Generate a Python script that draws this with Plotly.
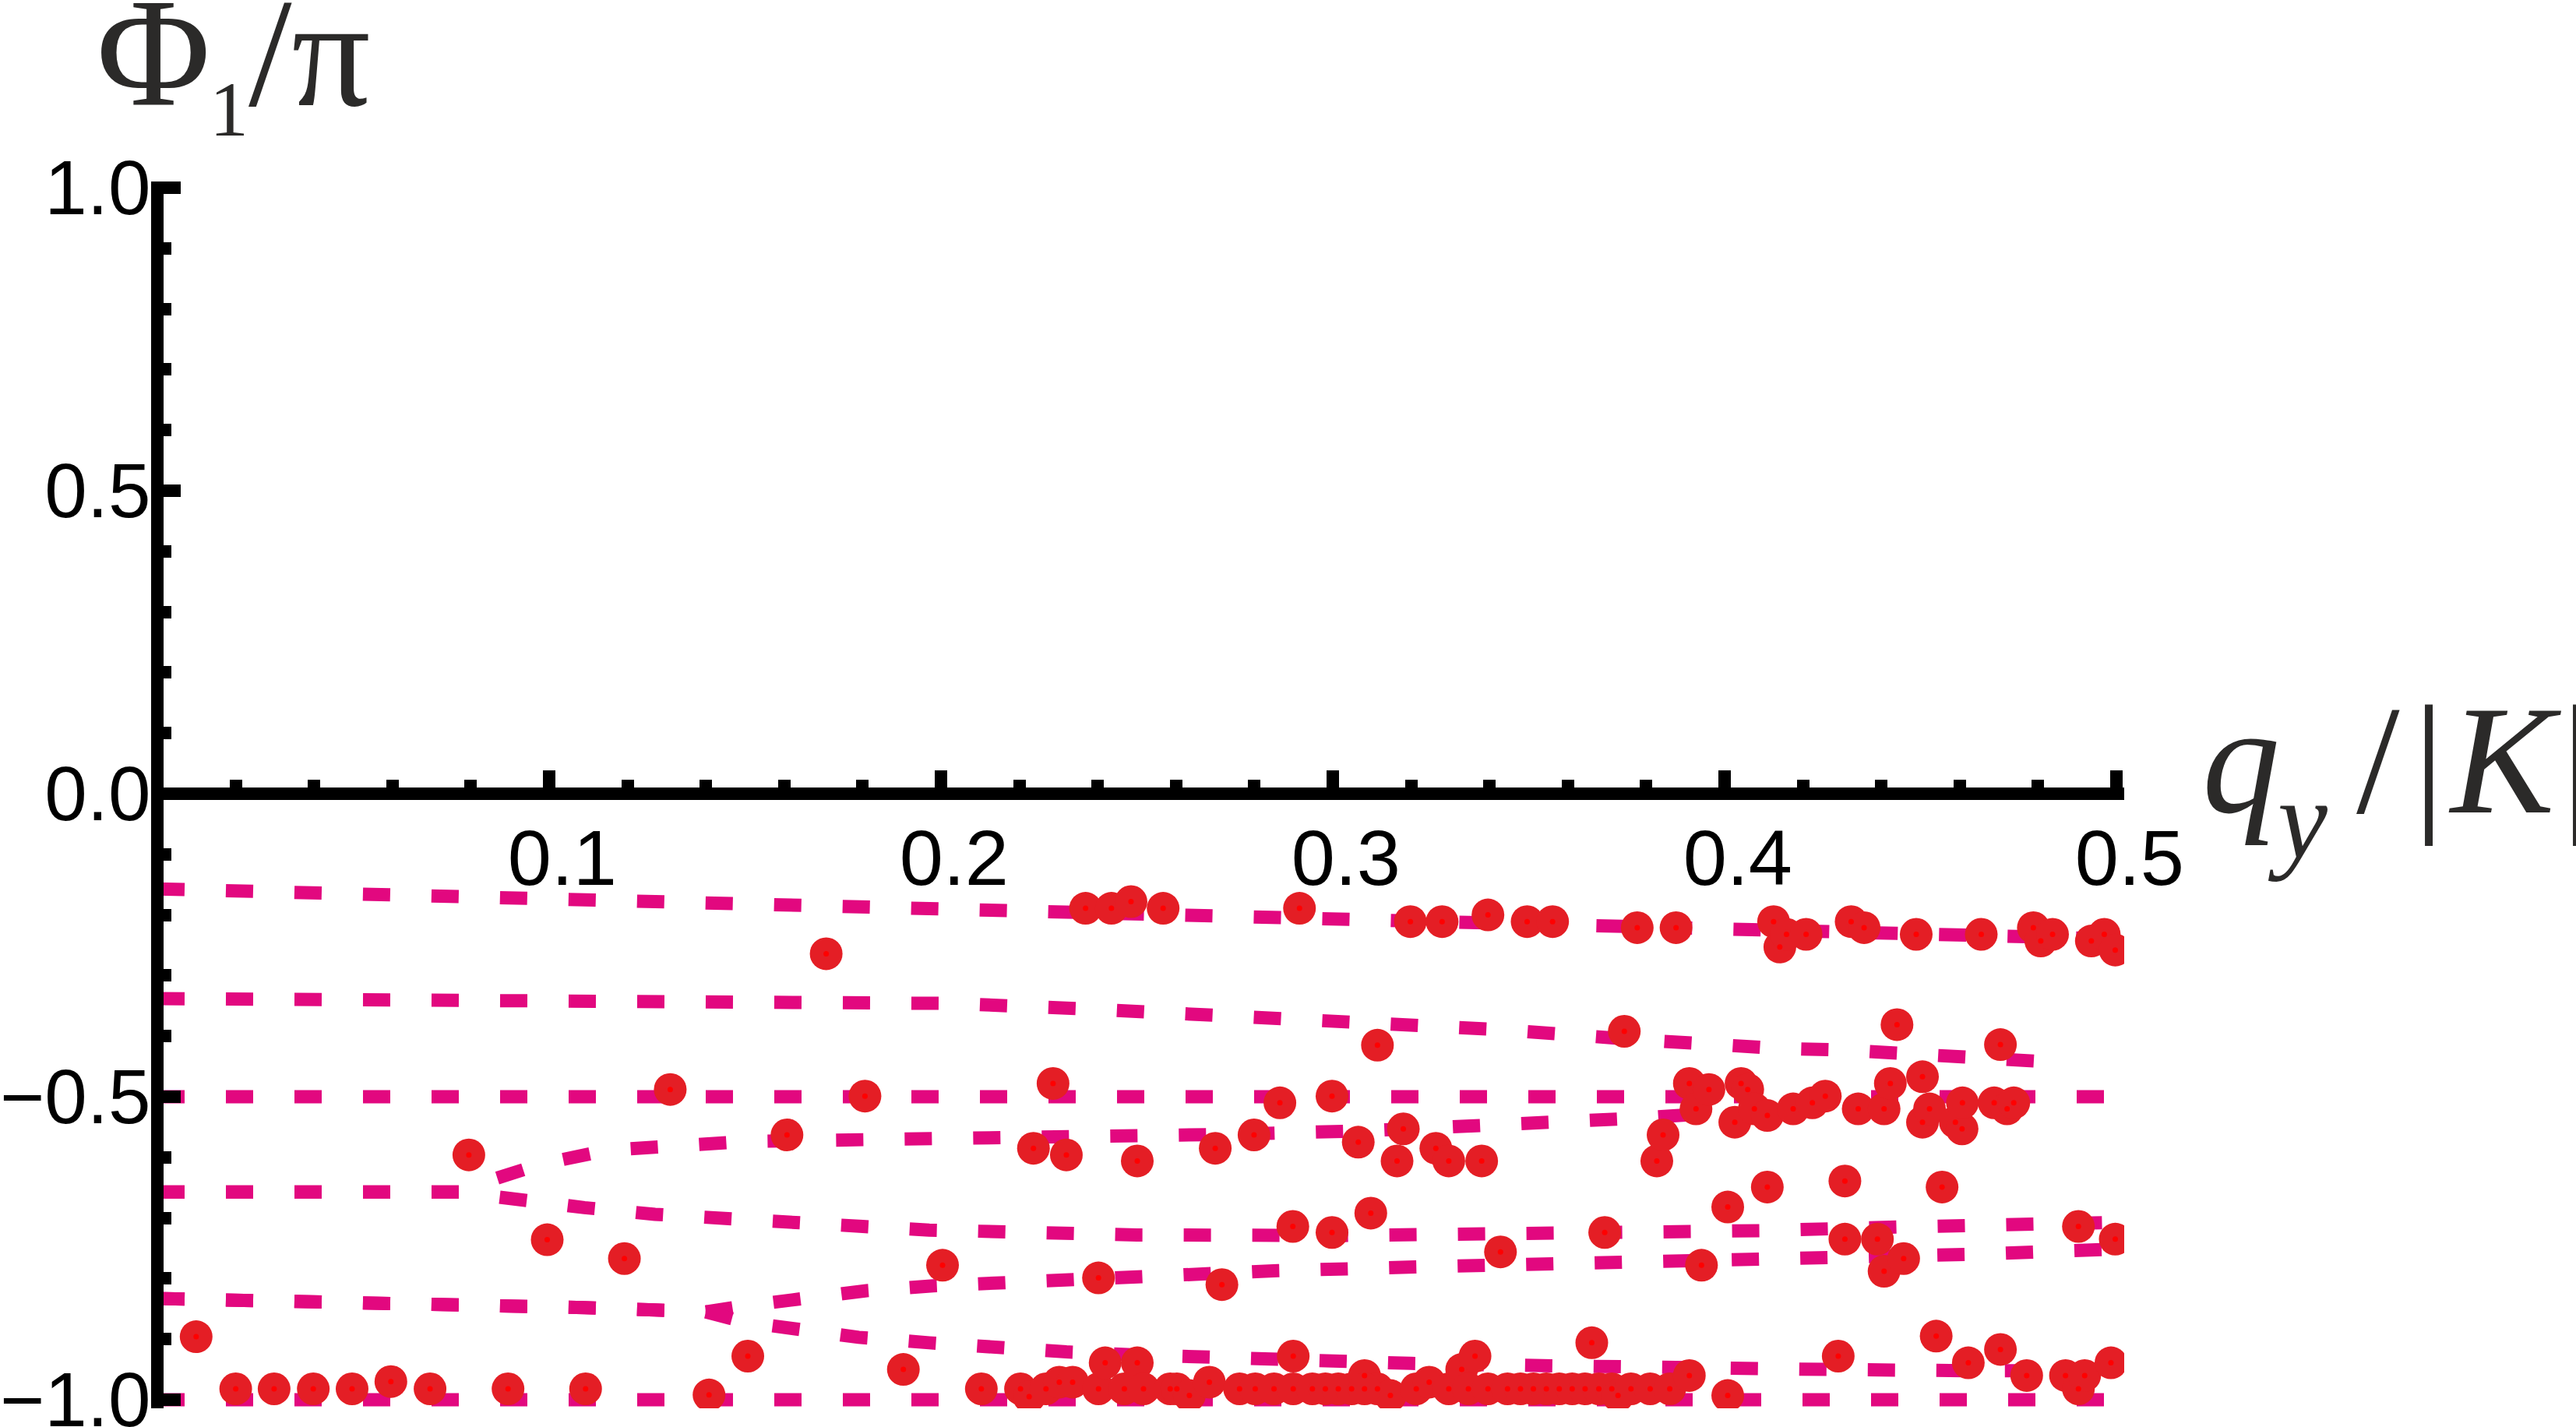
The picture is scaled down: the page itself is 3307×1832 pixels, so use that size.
import plotly.graph_objects as go

# canvas and plot-area geometry (px)
W, H = 3307, 1832
L, T = 202, 233
PW, PH = 2525, 1575
X_PX = 5030.0   # px per unit of q_y/|K|
Y_PX = 778.0    # px per unit of Phi/pi

x_max = PW / X_PX
y_top = 1 + (241 - T) / Y_PX
y_bot = y_top - PH / Y_PX

# dashed analytic branches
line_a_x = [0, 0.05, 0.109, 0.15, 0.2, 0.268, 0.303, 0.338, 0.374, 0.409, 0.444, 0.502]
line_a_y = [-0.157, -0.165, -0.176, -0.183, -0.191, -0.202, -0.208, -0.213, -0.221, -0.226, -0.232, -0.240]

line_b_x = [0, 0.06, 0.118, 0.166, 0.202, 0.237, 0.272, 0.307, 0.342, 0.378, 0.395, 0.413, 0.430, 0.448, 0.466, 0.487]
line_b_y = [-0.338, -0.339, -0.340, -0.341, -0.346, -0.355, -0.365, -0.376, -0.389, -0.406, -0.415, -0.420, -0.423, -0.430, -0.436, -0.444]

line_c_x = [0, 0.502]
line_c_y = [-0.5, -0.5]

line_d_x = [0, 0.078, 0.0815, 0.09, 0.098, 0.115, 0.133, 0.150, 0.168, 0.203, 0.238, 0.274, 0.309, 0.344, 0.362, 0.379, 0.395]
line_d_y = [-0.657, -0.657, -0.645, -0.625, -0.611, -0.588, -0.578, -0.574, -0.572, -0.570, -0.567, -0.562, -0.556, -0.548, -0.543, -0.535, -0.528]

line_e_x = [0, 0.078, 0.085, 0.092, 0.109, 0.127, 0.145, 0.162, 0.180, 0.197, 0.215, 0.250, 0.303, 0.338, 0.374, 0.409, 0.444, 0.480, 0.502]
line_e_y = [-0.657, -0.657, -0.664, -0.671, -0.683, -0.694, -0.702, -0.710, -0.714, -0.720, -0.724, -0.728, -0.729, -0.728, -0.725, -0.721, -0.715, -0.710, -0.707]

line_fu_x = [0, 0.05, 0.109, 0.127, 0.140, 0.150, 0.163, 0.181, 0.198, 0.216, 0.234, 0.252, 0.269, 0.286, 0.321, 0.357, 0.392, 0.427, 0.463, 0.502]
line_fu_y = [-0.833, -0.838, -0.848, -0.852, -0.855, -0.845, -0.833, -0.820, -0.812, -0.806, -0.800, -0.795, -0.790, -0.787, -0.781, -0.777, -0.772, -0.766, -0.760, -0.751]

line_fd_x = [0, 0.05, 0.109, 0.127, 0.140, 0.150, 0.161, 0.179, 0.197, 0.214, 0.232, 0.250, 0.268, 0.284, 0.320, 0.356, 0.391, 0.426, 0.461, 0.502]
line_fd_y = [-0.833, -0.838, -0.848, -0.852, -0.855, -0.872, -0.883, -0.897, -0.906, -0.915, -0.921, -0.926, -0.931, -0.934, -0.940, -0.944, -0.949, -0.950, -0.952, -0.952]

line_g_x = [0, 0.502]
line_g_y = [-1.0, -1.0]

# numerical points, grouped by band
top_x = [0.1707, 0.2369, 0.2435, 0.2485, 0.2567, 0.2915, 0.3198, 0.3279, 0.3396, 0.3496, 0.3561, 0.3777, 0.3876, 0.4125,
         0.4141, 0.4158, 0.4208, 0.4323, 0.4356, 0.4489, 0.4655, 0.4788, 0.4807, 0.4837, 0.4936, 0.4969, 0.4997]
top_y = [-0.264, -0.189, -0.189, -0.178, -0.189, -0.189, -0.211, -0.211, -0.200, -0.211, -0.211, -0.221, -0.221, -0.211,
         -0.253, -0.232, -0.232, -0.211, -0.221, -0.232, -0.232, -0.221, -0.243, -0.232, -0.243, -0.232, -0.258]

mid_x = [0.0795, 0.1309, 0.1607, 0.1806, 0.2236, 0.2286, 0.2320, 0.2501, 0.2700, 0.2799, 0.2865, 0.2998, 0.3065, 0.3114,
         0.3164, 0.3180, 0.3263, 0.3296, 0.3380, 0.3744, 0.3827, 0.3843, 0.3910, 0.3927, 0.3960, 0.4026, 0.4042, 0.4059,
         0.4076, 0.4109, 0.4175, 0.4224, 0.4257, 0.4341, 0.4407, 0.4423, 0.4440, 0.4505, 0.4505, 0.4523, 0.4589, 0.4606,
         0.4607, 0.4688, 0.4704, 0.4721, 0.4738]
mid_y = [-0.596, -0.488, -0.563, -0.499, -0.585, -0.478, -0.596, -0.606, -0.585, -0.563, -0.510, -0.499, -0.575, -0.415,
         -0.606, -0.553, -0.585, -0.606, -0.606, -0.392, -0.606, -0.563, -0.478, -0.520, -0.488, -0.542, -0.478, -0.488,
         -0.520, -0.531, -0.520, -0.510, -0.499, -0.520, -0.520, -0.478, -0.381, -0.467, -0.542, -0.520, -0.542, -0.553,
         -0.510, -0.510, -0.414, -0.520, -0.510]

low_x = [0.0995, 0.1192, 0.2004, 0.2402, 0.2717, 0.2898, 0.2998, 0.3097, 0.3428, 0.3694, 0.3941, 0.4008, 0.4109, 0.4307,
         0.4307, 0.4390, 0.4407, 0.4457, 0.4555, 0.4903, 0.4997]
low_y = [-0.736, -0.767, -0.778, -0.799, -0.810, -0.714, -0.724, -0.692, -0.756, -0.724, -0.778, -0.682, -0.649, -0.639,
         -0.735, -0.735, -0.788, -0.767, -0.649, -0.714, -0.735]

bot_x = [0.0099, 0.0200, 0.0298, 0.0398, 0.0497, 0.0596, 0.0696, 0.0895, 0.1093, 0.1408, 0.1507, 0.1904, 0.2103, 0.2203,
         0.2225, 0.2268, 0.2302, 0.2336, 0.2402, 0.2419, 0.2468, 0.2501, 0.2517, 0.2585, 0.2602, 0.2634, 0.2685, 0.2762,
         0.2802, 0.2850, 0.2899, 0.2899, 0.2948, 0.2981, 0.3014, 0.3048, 0.3081, 0.3114, 0.3147, 0.3213, 0.3246, 0.3296,
         0.3329, 0.3346, 0.3363, 0.3396, 0.3446, 0.3479, 0.3512, 0.3545, 0.3578, 0.3611, 0.3644, 0.3661, 0.3679, 0.3712,
         0.3728, 0.3761, 0.3810, 0.3860, 0.3910, 0.4008, 0.4290, 0.4540, 0.4622, 0.4704, 0.4771, 0.4870, 0.4903, 0.4919,
         0.4986, 0.3081]
bot_y = [-0.896, -0.982, -0.982, -0.982, -0.982, -0.970, -0.982, -0.982, -0.982, -0.992, -0.928, -0.950, -0.982, -0.982,
         -0.995, -0.982, -0.971, -0.971, -0.982, -0.939, -0.982, -0.939, -0.982, -0.982, -0.982, -0.993, -0.971, -0.982,
         -0.982, -0.982, -0.982, -0.928, -0.982, -0.982, -0.982, -0.982, -0.960, -0.982, -0.993, -0.982, -0.971, -0.982,
         -0.950, -0.982, -0.928, -0.982, -0.982, -0.982, -0.982, -0.982, -0.982, -0.982, -0.982, -0.906, -0.982, -0.982,
         -0.993, -0.982, -0.982, -0.982, -0.960, -0.993, -0.928, -0.895, -0.939, -0.917, -0.960, -0.960, -0.982, -0.960,
         -0.939, -0.982]

x_ticks = [0.1, 0.2, 0.3, 0.4, 0.5]
x_ticktext = ['0.1', '0.2', '0.3', '0.4', '0.5']
x_minor = [0.02, 0.04, 0.06, 0.08, 0.12, 0.14, 0.16, 0.18, 0.22, 0.24, 0.26, 0.28,
           0.32, 0.34, 0.36, 0.38, 0.42, 0.44, 0.46, 0.48]
y_ticks = [-1.0, -0.5, 0.0, 0.5, 1.0]
y_ticktext = ['\u22121.0', '\u22120.5', '0.0', '0.5', '1.0']
y_minor = [-0.9, -0.8, -0.7, -0.6, -0.4, -0.3, -0.2, -0.1, 0.1, 0.2, 0.3, 0.4, 0.6, 0.7, 0.8, 0.9]

LINE_COL = '#E2087F'
DOT_COL = '#E41E25'
TXT_COL = '#2B2A29'


def px_x(px):
    return (px - L) / PW


def px_y(py):
    return (T + PH - py) / PH


fig = go.Figure()

lines = [(line_a_x, line_a_y), (line_b_x, line_b_y), (line_c_x, line_c_y),
         (line_d_x, line_d_y), (line_e_x, line_e_y), (line_fu_x, line_fu_y),
         (line_fd_x, line_fd_y), (line_g_x, line_g_y)]
for lx, ly in lines:
    fig.add_trace(go.Scatter(x=lx, y=ly, mode='lines',
                             line=dict(color=LINE_COL, width=17, dash='35px,53px'),
                             hoverinfo='skip'))

all_x = top_x + mid_x + low_x + bot_x
all_y = top_y + mid_y + low_y + bot_y

fig.add_trace(go.Scatter(x=all_x, y=all_y, mode='markers',
                         marker=dict(color=DOT_COL, size=42, line=dict(width=0))))
fig.add_trace(go.Scatter(x=all_x, y=all_y, mode='markers',
                         marker=dict(color='#FF0000', size=7, line=dict(width=0))))

# Mathematica sets its x labels a little right of the tick; a leading
# three-per-em space reproduces that offset
x_labels = ['\u2004' + t for t in x_ticktext]

fig.update_layout(
    width=W, height=H,
    margin=dict(l=L, t=T, r=W - L - PW, b=H - T - PH, pad=0, autoexpand=False),
    paper_bgcolor='white', plot_bgcolor='white',
    showlegend=False,
    xaxis=dict(range=[0, x_max], anchor='free', position=(0 - y_bot) / (y_top - y_bot),
               automargin=False, ticklabeloverflow='allow', ticklabelstandoff=-12,
               showline=True, linewidth=16, linecolor='black',
               showgrid=False, zeroline=False,
               tickmode='array', tickvals=x_ticks, ticktext=x_labels,
               ticks='inside', ticklen=22, tickwidth=16, tickcolor='black',
               tickfont=dict(family='Liberation Sans', size=101, color='black'),
               minor=dict(tickmode='array', tickvals=x_minor, ticks='inside',
                          ticklen=10, tickwidth=16, tickcolor='black', showgrid=False)),
    yaxis=dict(range=[y_bot, y_top], anchor='free', position=0,
               automargin=False, ticklabeloverflow='allow', ticklabelstandoff=-19,
               showline=True, linewidth=16, linecolor='black',
               showgrid=False, zeroline=False,
               tickmode='array', tickvals=y_ticks, ticktext=y_ticktext,
               ticks='inside', ticklen=22, tickwidth=16, tickcolor='black',
               tickfont=dict(family='Liberation Sans', size=98, color='black'),
               minor=dict(tickmode='array', tickvals=y_minor, ticks='inside',
                          ticklen=10, tickwidth=16, tickcolor='black', showgrid=False)),
)

serif = 'Liberation Serif'
labels = [
    # text, left px, center px, size
    ('\u03a6', 123, 68, 200),
    ('1', 268, 141, 100),
    ('/\u03c0', 318, 68, 200),
    ('<i>q</i>', 2826, 975, 200),
    ('<i>y</i>', 2910, 1052, 144),
    ('/', 3024, 975, 200),
    ('|', 3097, 975, 200),
    ('<i>K</i>', 3142, 975, 200),
    ('|', 3287, 975, 200),
]
for txt, lx, cy, sz in labels:
    fig.add_annotation(text=txt, xref='paper', yref='paper',
                       x=px_x(lx), y=px_y(cy), xanchor='left', yanchor='middle',
                       showarrow=False, borderpad=0,
                       font=dict(family=serif, size=sz, color=TXT_COL))

fig.write_html("out.html", config={'displayModeBar': False},
               post_script="document.body.style.margin='0';document.body.style.overflow='hidden';")
